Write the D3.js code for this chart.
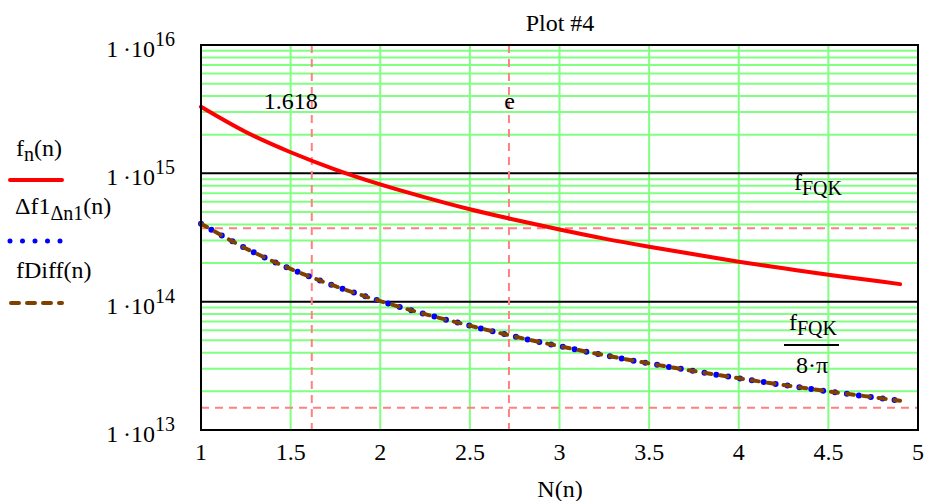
<!DOCTYPE html>
<html>
<head>
<meta charset="utf-8">
<script src="https://cdn.jsdelivr.net/npm/d3@7"></script>
<style>
  body { margin: 0; background: #fff; }
</style>
</head>
<body>
<svg id="chart" width="928" height="501"></svg>
<script>
// values
const nValues     = [1, 1.25, 1.5, 1.75, 2, 2.25, 2.5, 2.75, 3, 3.25, 3.5, 3.75, 4, 4.25, 4.5, 4.75, 4.9];
const fnValues    = [3.3e15, 2.1e15, 1.46e15, 1.07e15, 8.2e14, 6.5e14, 5.25e14, 4.35e14, 3.65e14, 3.1e14, 2.68e14, 2.34e14, 2.05e14, 1.82e14, 1.62e14, 1.46e14, 1.37e14];
const df1Values   = [4.05e14, 2.6e14, 1.8e14, 1.32e14, 1.01e14, 8.0e13, 6.5e13, 5.35e13, 4.5e13, 3.83e13, 3.3e13, 2.88e13, 2.53e13, 2.24e13, 2.0e13, 1.8e13, 1.69e13];
const fDiffValues = [4.05e14, 2.6e14, 1.8e14, 1.32e14, 1.01e14, 8.0e13, 6.5e13, 5.35e13, 4.5e13, 3.83e13, 3.3e13, 2.88e13, 2.53e13, 2.24e13, 2.0e13, 1.8e13, 1.69e13];

const xTicks = [1, 1.5, 2, 2.5, 3, 3.5, 4, 4.5, 5];
const yExponents = [13, 14, 15, 16];
const xMarkers = [{ label: "1.618", value: 1.618 }, { label: "e", value: 2.718 }];
const yMarkers = [3.74e14, 1.49e13];

const FONT = "Liberation Serif";
const margin = { top: 45, right: 10, bottom: 71, left: 201 };
const width = 928 - margin.left - margin.right;
const height = 501 - margin.top - margin.bottom;

const svg = d3.select("#chart");
const g = svg.append("g").attr("transform", `translate(${margin.left},${margin.top})`);

const x = d3.scaleLinear().domain([1, 5]).range([0, width]);
const y = d3.scaleLog().domain([1e13, 1e16]).range([height, 0]);

// minor horizontal grid (2..9 in each decade)
const minor = [];
yExponents.slice(0, -1).forEach(e => {
    for (let k = 2; k <= 9; k++) minor.push(k * Math.pow(10, e));
});
g.selectAll(".hgrid").data(minor).enter().append("line")
    .attr("x1", 0).attr("x2", width)
    .attr("y1", d => y(d)).attr("y2", d => y(d))
    .attr("stroke", "#80ff80").attr("stroke-width", 2);

// vertical grid
g.selectAll(".vgrid").data(xTicks.slice(1, -1)).enter().append("line")
    .attr("x1", d => x(d)).attr("x2", d => x(d))
    .attr("y1", 0).attr("y2", height)
    .attr("stroke", "#80ff80").attr("stroke-width", 2);

// major decade lines
g.selectAll(".major").data(yExponents.slice(1, -1)).enter().append("line")
    .attr("x1", 0).attr("x2", width)
    .attr("y1", d => y(Math.pow(10, d))).attr("y2", d => y(Math.pow(10, d)))
    .attr("stroke", "#000").attr("stroke-width", 2);

// marker lines
g.selectAll(".xmark").data(xMarkers).enter().append("line")
    .attr("x1", d => x(d.value)).attr("x2", d => x(d.value))
    .attr("y1", 0).attr("y2", height)
    .attr("stroke", "#ff8080").attr("stroke-width", 2).attr("stroke-dasharray", "8 6");
g.selectAll(".ymark").data(yMarkers).enter().append("line")
    .attr("x1", 0).attr("x2", width)
    .attr("y1", d => y(d)).attr("y2", d => y(d))
    .attr("stroke", "#ff8080").attr("stroke-width", 2).attr("stroke-dasharray", "8 6");

g.selectAll(".xmarklabel").data(xMarkers).enter().append("text")
    .attr("x", d => x(d.value) + 6).attr("y", 64)
    .attr("text-anchor", "end").attr("font-size", 24)
    .text(d => d.label);

// traces
const line = vals => d3.line()
    .x((d, i) => x(nValues[i]))
    .y(d => y(d))
    .curve(d3.curveCatmullRom)(vals);

g.append("path").attr("d", line(fnValues))
    .attr("fill", "none").attr("stroke", "#ff0000").attr("stroke-width", 4)
    .attr("stroke-linecap", "round");
g.append("path").attr("d", line(df1Values))
    .attr("fill", "none").attr("stroke", "#0000ff").attr("stroke-width", 6)
    .attr("stroke-linecap", "round").attr("stroke-dasharray", "0 12");
g.append("path").attr("d", line(fDiffValues))
    .attr("fill", "none").attr("stroke", "#804000").attr("stroke-width", 4)
    .attr("stroke-linecap", "round").attr("stroke-dasharray", "7 9");

// frame
g.append("rect").attr("width", width).attr("height", height)
    .attr("fill", "none").attr("stroke", "#000").attr("stroke-width", 2);

// x axis labels
g.selectAll(".xtick").data(xTicks).enter().append("text")
    .attr("x", d => x(d)).attr("y", height + 30)
    .attr("text-anchor", "middle").attr("font-size", 24)
    .text(d => d);

// y axis labels
const yl = g.selectAll(".ytick").data(yExponents).enter().append("text")
    .attr("x", -26).attr("y", d => y(Math.pow(10, d)) + 12)
    .attr("text-anchor", "end").attr("font-size", 24);
yl.append("tspan").text("1\u2009\u00b710");
yl.append("tspan").attr("dy", -11).attr("font-size", 20).text(d => d);

// marker value labels at the right
const fq = g.append("text").attr("x", 593).attr("y", 145).attr("font-size", 24);
fq.append("tspan").text("f");
fq.append("tspan").attr("dy", 5).attr("font-size", 20).text("FQK");

const fq2 = g.append("text").attr("x", 588).attr("y", 285).attr("font-size", 24);
fq2.append("tspan").text("f");
fq2.append("tspan").attr("dy", 5).attr("font-size", 20).text("FQK");
g.append("line").attr("x1", 583).attr("x2", 638).attr("y1", 300).attr("y2", 300)
    .attr("stroke", "#000").attr("stroke-width", 2);
g.append("text").attr("x", 611).attr("y", 328).attr("text-anchor", "middle")
    .attr("font-size", 24).text("8\u00b7\u03c0");

// title and axis title
svg.append("text").attr("x", 560).attr("y", 31).attr("text-anchor", "middle")
    .attr("font-size", 24).text("Plot #4");
svg.append("text").attr("x", 560).attr("y", 497).attr("text-anchor", "middle")
    .attr("font-size", 24).text("N(n)");

// legend
const legend = svg.append("g");
const l1 = legend.append("text").attr("x", 16).attr("y", 156).attr("font-size", 24);
l1.append("tspan").text("f");
l1.append("tspan").attr("dy", 5).attr("font-size", 20).text("n");
l1.append("tspan").attr("dy", -5).text("(n)");
legend.append("line").attr("x1", 10).attr("x2", 62).attr("y1", 180).attr("y2", 180)
    .attr("stroke", "#ff0000").attr("stroke-width", 4).attr("stroke-linecap", "round");

const l2 = legend.append("text").attr("x", 15).attr("y", 214).attr("font-size", 24);
l2.append("tspan").text("\u0394f1");
l2.append("tspan").attr("dy", 6).attr("font-size", 20).text("\u0394n1");
l2.append("tspan").attr("dy", -6).text("(n)");
legend.append("line").attr("x1", 10).attr("x2", 62).attr("y1", 241).attr("y2", 241)
    .attr("stroke", "#0000ff").attr("stroke-width", 5)
    .attr("stroke-linecap", "round").attr("stroke-dasharray", "0 12.5");

legend.append("text").attr("x", 16).attr("y", 278).attr("font-size", 24).text("fDiff(n)");
legend.append("line").attr("x1", 11).attr("x2", 62).attr("y1", 303).attr("y2", 303)
    .attr("stroke", "#804000").attr("stroke-width", 4)
    .attr("stroke-linecap", "round").attr("stroke-dasharray", "8 8");

// serif font on every text element
svg.selectAll("text").attr("font-family", FONT).style("font-family", FONT).attr("fill", "#000");
</script>
</body>
</html>
